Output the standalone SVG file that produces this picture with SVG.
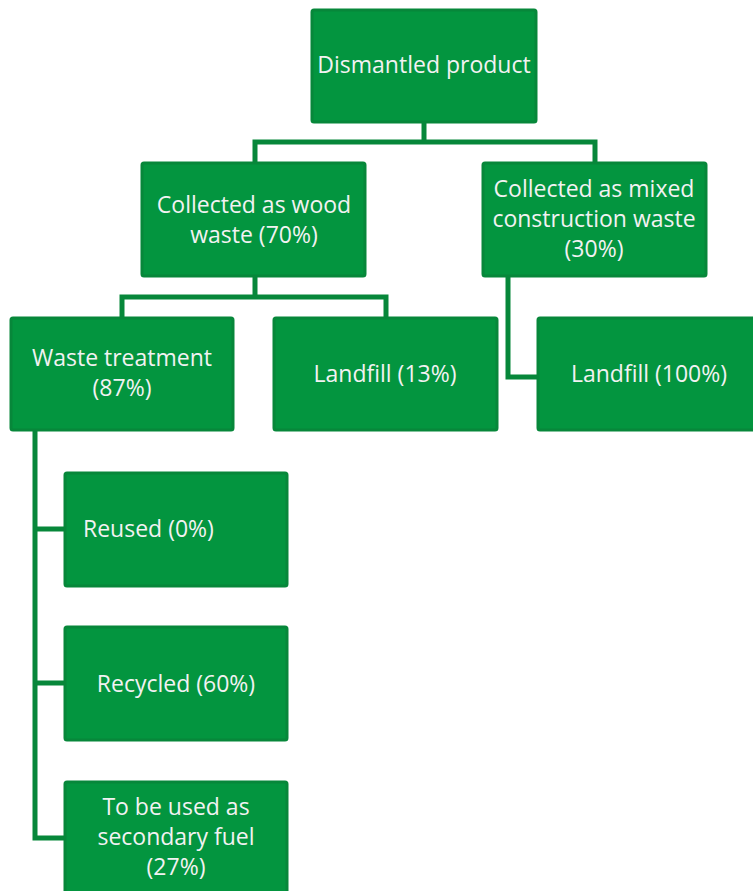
<svg xmlns="http://www.w3.org/2000/svg" width="753" height="891" viewBox="0 0 753 891">
<style>
.box{fill:#03953f;stroke:#07873a;stroke-width:3}
.t{font-family:"Open Sans","Liberation Sans",sans-serif;font-size:23px;fill:#f2f2f2;text-anchor:middle}
.c{fill:none;stroke:#07873a;stroke-width:5;stroke-linejoin:miter}
</style>
<rect width="753" height="891" fill="#ffffff"/>
<g id="connectors">
<path class="c" d="M424 122 V142 M255 163 V142 H595 V163"/>
<path class="c" d="M255 277 V297 M122 318 V297 H386 V318"/>
<path class="c" d="M508 277 V377 H538"/>
<path class="c" d="M35 430 V838 H65 M35 529 H65 M35 683 H65"/>
</g>
<g id="dismantled"><rect class="box" x="312" y="10" width="224" height="112" rx="2"/><text class="t" x="424" y="73">Dismantled product</text></g>
<g id="wood"><rect class="box" x="142" y="163" width="223" height="113" rx="2"/><text class="t" x="254" y="213">Collected as wood</text><text class="t" x="254" y="243">waste (70%)</text></g>
<g id="mixed"><rect class="box" x="483" y="163" width="223" height="113" rx="2"/><text class="t" x="594" y="197">Collected as mixed</text><text class="t" x="594" y="227">construction waste</text><text class="t" x="594" y="257">(30%)</text></g>
<g id="treatment"><rect class="box" x="11" y="318" width="222" height="112" rx="2"/><text class="t" x="122" y="366">Waste treatment</text><text class="t" x="122" y="396">(87%)</text></g>
<g id="landfill13"><rect class="box" x="274" y="318" width="223" height="112" rx="2"/><text class="t" x="385" y="382">Landfill (13%)</text></g>
<g id="landfill100"><rect class="box" x="538" y="318" width="223" height="112" rx="2"/><text class="t" x="649" y="382">Landfill (100%)</text></g>
<g id="reused"><rect class="box" x="65" y="473" width="222" height="113" rx="2"/><text class="t" x="83" y="537" style="text-anchor:start">Reused (0%)</text></g>
<g id="recycled"><rect class="box" x="65" y="627" width="222" height="113" rx="2"/><text class="t" x="176" y="692">Recycled (60%)</text></g>
<g id="fuel"><rect class="box" x="65" y="782" width="222" height="113" rx="2"/><text class="t" x="176" y="815">To be used as</text><text class="t" x="176" y="845">secondary fuel</text><text class="t" x="176" y="875">(27%)</text></g>
</svg>
